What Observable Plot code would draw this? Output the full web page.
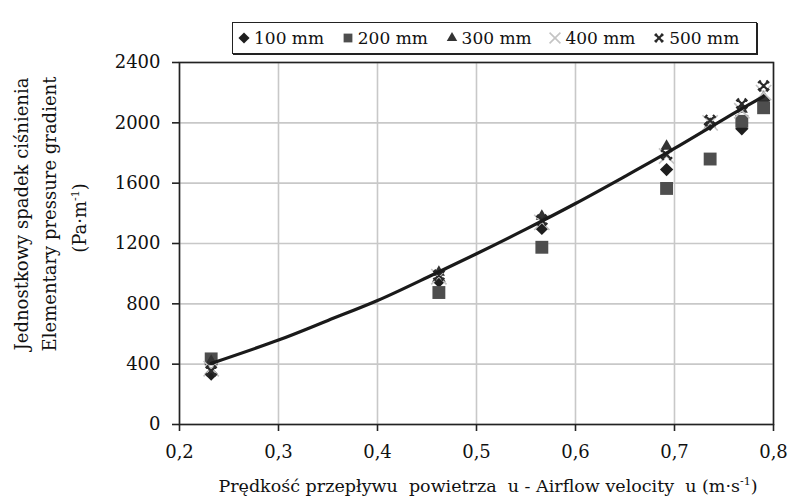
<!DOCTYPE html>
<html>
<head>
<meta charset="utf-8">
<script src="https://cdn.jsdelivr.net/npm/d3@7"></script>
<script src="https://cdn.jsdelivr.net/npm/@observablehq/plot@0.6"></script>
<style>
  html, body { margin: 0; padding: 0; background: #fff; }
  body { width: 792px; height: 501px; overflow: hidden; position: relative; color: #111; font-family: 'DejaVu Serif'; }
  #legendWrap { position: relative; height: 46px; z-index: 2; }
  #legend { position: absolute; left: 232px; top: 22px; height: 32px; width: 525px;
            border: 1px solid #222; box-shadow: 1px 1px 0 #222; box-sizing: border-box; background: #fff;
            display: flex; align-items: center; padding-left: 4px; font-size: 17px; }
  .item { display: flex; align-items: center; width: 104px; white-space: nowrap; }
  .item svg { margin-right: 3px; }
  .xtitle { position: absolute; left: 0; width: 976px; top: 476px; text-align: center; font-size: 17.5px; white-space: pre; }
  .ytitle { position: absolute; font-size: 18px; white-space: pre; text-align: center; width: 400px; line-height: 24px;
            transform-origin: 0 0; transform: rotate(-90deg); }
  sup { font-size: 11px; vertical-align: 7px; line-height: 0; }
</style>
</head>
<body style="font-family: 'DejaVu Serif' !important">
<div id="legendWrap"><div id="legend" style="font-family: 'DejaVu Serif' !important"></div></div>
<div id="chart"></div>
<div class="xtitle" style="font-family: 'DejaVu Serif' !important">Prędkość przepływu  powietrza  u - Airflow velocity  u (m·s<sup>-1</sup>)</div>
<div class="ytitle" style="left: 10px; top: 414px; font-family: 'DejaVu Serif' !important">Jednostkowy spadek ciśnienia</div>
<div class="ytitle" style="left: 38px; top: 414px; font-family: 'DejaVu Serif' !important">Elementary pressure gradient</div>
<div class="ytitle" style="left: 68px; top: 418px; font-family: 'DejaVu Serif' !important">(Pa·m<sup>-1</sup>)</div>
<script>
// ---- data ----
const seriesNames = ["100 mm", "200 mm", "300 mm", "400 mm", "500 mm"];
const velocity = [0.232, 0.462, 0.566, 0.692, 0.736, 0.768, 0.790];
const grad100 = [335, 950, 1300, 1690, 1990, 1960, 2150];
const grad200 = [435, 875, 1175, 1565, 1760, 2010, 2100];
const grad300 = [420, 1010, 1380, 1845, 1990, 2090, 2170];
const grad400 = [370, 980, 1340, 1780, 2000, 2080, 2200];
const grad500 = [355, 990, 1355, 1790, 2015, 2125, 2245];
const fitVelocity = [0.232, 0.30, 0.35, 0.40, 0.45, 0.50, 0.55, 0.60, 0.65, 0.70, 0.75, 0.79];
const fitGradient = [405, 560, 690, 822, 975, 1132, 1295, 1465, 1645, 1830, 2025, 2175];
const xTicks = [0.2, 0.3, 0.4, 0.5, 0.6, 0.7, 0.8];
const yTicks = [0, 400, 800, 1200, 1600, 2000, 2400];

const allSeries = [grad100, grad200, grad300, grad400, grad500];

// custom "x with serifs" marker (Excel style)
const xSerif = {
  draw(ctx, size) {
    const r = Math.sqrt(size) * 0.36;
    const k = r * 0.32;
    ctx.moveTo(-r, -r); ctx.lineTo(r, r);
    ctx.moveTo(-r, r); ctx.lineTo(r, -r);
    for (const [sx, sy] of [[1, 1], [-1, -1], [1, -1], [-1, 1]]) {
      const px = sx * r, py = sy * r;
      ctx.moveTo(px - sy * k, py + sx * k);
      ctx.lineTo(px + sy * k, py - sx * k);
    }
  }
};

const styles = [
  {symbol: "diamond2", r: 6, fill: "#1e1e1e"},
  {symbol: "square2", r: 8.2, fill: "#4e4e4e"},
  {symbol: "triangle2", r: 5.8, fill: "#333333"},
  {symbol: "times", r: 7, stroke: "#c4c4c4", strokeWidth: 1.6},
  {symbol: xSerif, r: 6.5, stroke: "#2a2a2a", strokeWidth: 2.2}
];

const rows = allSeries.map((vals, si) => vals.map((v, i) => ({u: velocity[i], p: v, s: seriesNames[si]})));
const fit = fitVelocity.map((u, i) => ({u, p: fitGradient[i]}));

const dotMarks = rows.map((data, si) => {
  const st = styles[si];
  return Plot.dot(data, {
    x: "u", y: "p", symbol: () => st.symbol, r: st.r,
    fill: st.fill || "none", stroke: st.stroke || "none",
    strokeWidth: st.strokeWidth || 0
  });
});

const comma = d => d.toFixed(1).replace(".", ",");

const plot = Plot.plot({
  width: 792, height: 455,
  marginTop: 16, marginBottom: 77, marginLeft: 179, marginRight: 19,
  style: {fontSize: "18px", color: "#111", background: "#fff", overflow: "visible"},
  x: {domain: [0.2, 0.8]},
  y: {domain: [0, 2400]},
  marks: [
    Plot.gridX(xTicks, {stroke: "#c8c8c8", strokeOpacity: 1, strokeWidth: 1.6}),
    Plot.gridY(yTicks, {stroke: "#c8c8c8", strokeOpacity: 1, strokeWidth: 1.6}),
    Plot.axisX(xTicks, {tickFormat: comma, tickSize: 7, tickPadding: 14, fontSize: 18, label: null, stroke: "#222", strokeWidth: 1.6, fill: "#111"}),
    Plot.axisY(yTicks, {tickFormat: d => String(d), tickSize: 7, tickPadding: 12, fontSize: 18, label: null, stroke: "#222", strokeWidth: 1.6, fill: "#111"}),
    ...dotMarks,
    Plot.line(fit, {x: "u", y: "p", curve: "natural", stroke: "#1a1a1a", strokeWidth: 3.2}),
    Plot.frame({stroke: "#222", strokeWidth: 1.6})
  ]
});
plot.setAttribute("font-family", "DejaVu Serif");
plot.querySelectorAll("text").forEach(t => t.setAttribute("style", "font-family: 'DejaVu Serif' !important"));
document.getElementById("chart").appendChild(plot);

// legend built from the same series names and marker styles
const legend = d3.select("#legend");
seriesNames.forEach((name, si) => {
  const st = styles[si];
  const item = legend.append("div").attr("class", "item");
  const sv = item.append("svg").attr("width", 14).attr("height", 14);
  const sym = typeof st.symbol === "string"
    ? ({diamond2: d3.symbolDiamond2, square2: d3.symbolSquare2, triangle2: d3.symbolTriangle2, times: d3.symbolTimes})[st.symbol]
    : st.symbol;
  const rr = si === 1 ? 5.6 : 5;
  sv.append("path")
    .attr("transform", "translate(7,7)")
    .attr("d", d3.symbol(sym, Math.PI * rr * rr)())
    .attr("fill", st.fill || "none")
    .attr("stroke", st.stroke || "none")
    .attr("stroke-width", st.strokeWidth || 0);
  item.append("span").attr("style", "font-family: 'DejaVu Serif' !important").text(name);
});
</script>
</body>
</html>
